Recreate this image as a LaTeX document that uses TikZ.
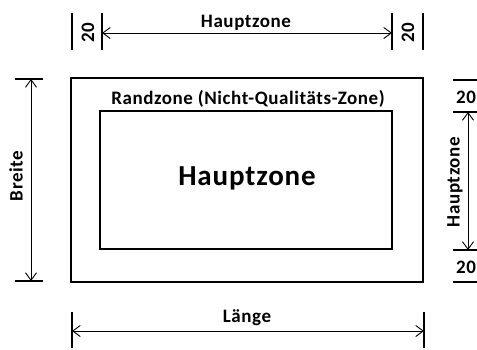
\documentclass[tikz,border=0pt]{standalone}
\usepackage{fontspec}
\setmainfont{Carlito}[LetterSpace=3]
\usetikzlibrary{arrows.meta}
\begin{document}
\begin{tikzpicture}[x=1pt,y=-1pt,
  lbl/.style={font=\bfseries\fontsize{19}{19}\selectfont, inner sep=0pt},
  big/.style={font=\bfseries\fontsize{29}{29}\selectfont, inner sep=0pt},
  tick/.style={line width=1.1pt},
  dim/.style={line width=0.9pt, {Straight Barb[length=7.5pt,width=11pt]}-{Straight Barb[length=7.5pt,width=11pt]}},
  outerbox/.style={draw, line width=1.8pt},
  innerbox/.style={draw, line width=1.5pt}]
\useasboundingbox (0,0) rectangle (477,349);
% boxes
\draw[outerbox] (71,78) rectangle (423,282);
\draw[innerbox] (100,111) rectangle (392,249);
\node[lbl] (rand) at (248,99) {Randzone (Nicht-Qualitäts-Zone)};
\node[big] (mid) at (247,178) {Hauptzone};
% top dimension
\coordinate (t1a) at (72,13); \coordinate (t1b) at (72,50);
\coordinate (t2a) at (102,13); \coordinate (t2b) at (102,50);
\coordinate (t3a) at (392,13); \coordinate (t3b) at (392,50);
\coordinate (t4a) at (423,13); \coordinate (t4b) at (423,50);
\draw[tick] (t1a) -- (t1b);
\draw[tick] (t2a) -- (t2b);
\draw[tick] (t3a) -- (t3b);
\draw[tick] (t4a) -- (t4b);
\coordinate (ta) at (102,33); \coordinate (tb) at (392,33);
\draw[dim] (ta) -- (tb);
\node[lbl, rotate=90] (tl20) at (88,33) {20};
\node[lbl, rotate=90] (tr20) at (408,33) {20};
\node[lbl] (thz) at (246,23) {Hauptzone};
% left dimension
\coordinate (l1a) at (15,79); \coordinate (l1b) at (43,79);
\coordinate (l2a) at (15,281); \coordinate (l2b) at (43,281);
\draw[tick] (l1a) -- (l1b);
\draw[tick] (l2a) -- (l2b);
\coordinate (la) at (31,79); \coordinate (lb) at (31,281);
\draw[dim] (la) -- (lb);
\node[lbl, rotate=90] (breite) at (16,176) {Breite};
% right dimension
\coordinate (r1a) at (453,80); \coordinate (r1b) at (477,80);
\coordinate (r2a) at (453,112); \coordinate (r2b) at (477,112);
\coordinate (r3a) at (453,250); \coordinate (r3b) at (477,250);
\coordinate (r4a) at (453,282); \coordinate (r4b) at (477,282);
\draw[tick] (r1a) -- (r1b);
\draw[tick] (r2a) -- (r2b);
\draw[tick] (r3a) -- (r3b);
\draw[tick] (r4a) -- (r4b);
\coordinate (ra) at (468,112); \coordinate (rb) at (468,250);
\draw[dim] (ra) -- (rb);
\node[lbl] (rt20) at (466,97) {20};
\node[lbl] (rb20) at (466,267) {20};
\node[lbl, rotate=90] (rhz) at (455,182) {Hauptzone};
% bottom dimension
\coordinate (b1a) at (72,312); \coordinate (b1b) at (72,348);
\coordinate (b2a) at (424,312); \coordinate (b2b) at (424,348);
\draw[tick] (b1a) -- (b1b);
\draw[tick] (b2a) -- (b2b);
\coordinate (ba) at (72,331); \coordinate (bb) at (424,331);
\draw[dim] (ba) -- (bb);
\node[lbl] (laenge) at (247,318) {Länge};
\end{tikzpicture}
\end{document}
